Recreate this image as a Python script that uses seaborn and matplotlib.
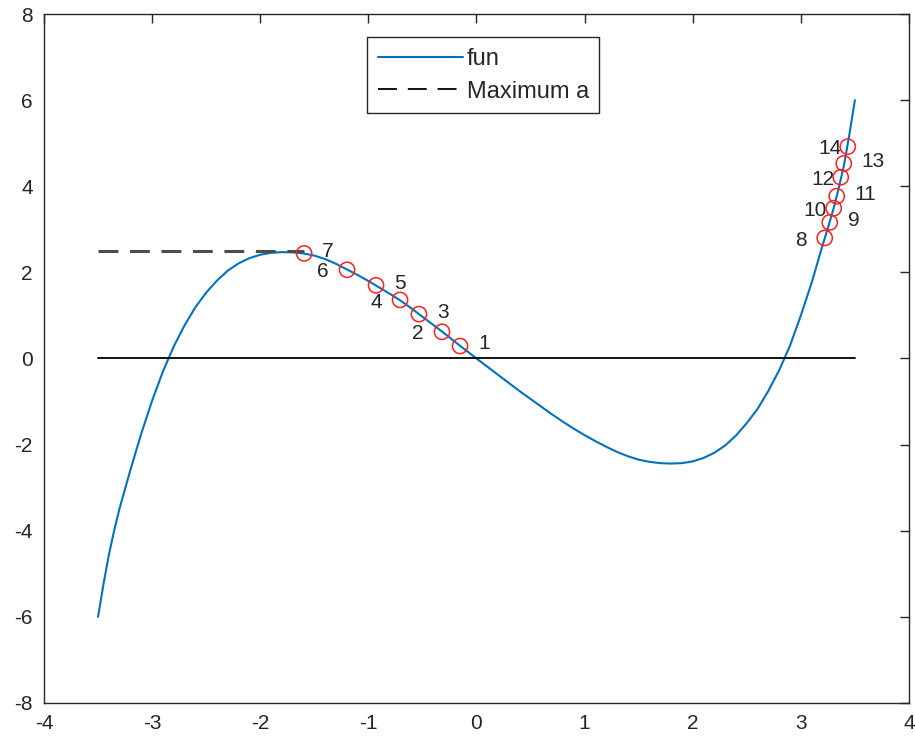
import numpy as np
import pandas as pd
import matplotlib
matplotlib.use('Agg')
import matplotlib.pyplot as plt
import seaborn as sns
from matplotlib.lines import Line2D

# curve "fun", values
fun_x = [-3.5, -3.45, -3.4, -3.35, -3.3, -3.2, -3.1, -3.0, -2.9, -2.8, -2.7,
         -2.6, -2.5, -2.4, -2.3, -2.2, -2.1, -2.0, -1.9, -1.8, -1.7, -1.6,
         -1.5, -1.4, -1.3, -1.2, -1.1, -1.0, -0.9, -0.8, -0.7, -0.6, -0.5,
         -0.4, -0.3, -0.2, -0.1, 0.0, 0.1, 0.2, 0.3, 0.4, 0.5, 0.6, 0.7,
         0.8, 0.9, 1.0, 1.1, 1.2, 1.3, 1.4, 1.5, 1.6, 1.7, 1.8, 1.9, 2.0,
         2.1, 2.2, 2.3, 2.4, 2.5, 2.6, 2.7, 2.8, 2.9, 3.0, 3.1, 3.2, 3.25,
         3.3, 3.35, 3.4, 3.45, 3.5]
fun_y = [-6.0, -5.24, -4.56, -3.98, -3.47, -2.58, -1.74, -0.98, -0.30, 0.28,
         0.77, 1.19, 1.53, 1.81, 2.04, 2.21, 2.33, 2.41, 2.455, 2.47, 2.465,
         2.44, 2.39, 2.31, 2.20, 2.07, 1.94, 1.80, 1.65, 1.50, 1.34, 1.16,
         0.97, 0.78, 0.59, 0.39, 0.195, 0.0, -0.19, -0.38, -0.57, -0.76,
         -0.94, -1.12, -1.30, -1.47, -1.63, -1.78, -1.92, -2.05, -2.17,
         -2.27, -2.35, -2.40, -2.43, -2.44, -2.43, -2.39, -2.31, -2.19,
         -2.02, -1.79, -1.50, -1.17, -0.75, -0.27, 0.30, 1.00, 1.76, 2.62,
         3.03, 3.46, 3.95, 4.50, 5.22, 6.0]

# search points 1..14
iter_x = [-0.152, -0.319, -0.532, -0.707, -0.929, -1.197, -1.594,
          3.221, 3.267, 3.304, 3.332, 3.369, 3.397, 3.434]
iter_y = [0.29, 0.62, 1.03, 1.36, 1.70, 2.06, 2.44,
          2.80, 3.16, 3.49, 3.77, 4.21, 4.53, 4.92]
iter_lab = [str(i) for i in range(1, 15)]

# zero line and maximum line
zero_x = [-3.5, 3.5]
zero_y = [0, 0]
max_x = [-3.5, -1.594]
max_y = [2.5, 2.5]

xticks = [-4, -3, -2, -1, 0, 1, 2, 3, 4]
yticks = [-8, -6, -4, -2, 0, 2, 4, 6, 8]

sns.set_style('white')
plt.rcParams['font.family'] = ['Liberation Sans', 'DejaVu Sans']
plt.rcParams['axes.unicode_minus'] = False

fig = plt.figure(figsize=(9.15, 7.42), dpi=100)
ax = fig.add_axes([0.0481, 0.0526, 0.9453, 0.9285])

blue = '#0072BD'
dark = '#262626'

sns.lineplot(x=fun_x, y=fun_y, ax=ax, color=blue, linewidth=1.5, sort=False)
sns.lineplot(x=zero_x, y=zero_y, ax=ax, color='black', linewidth=1.3)
ax.plot(max_x, max_y, color='0.3', linewidth=2.2, dashes=(6.5, 3.8))

df_it = pd.DataFrame({'x': iter_x, 'y': iter_y, 'lab': iter_lab})
sns.scatterplot(data=df_it, x='x', y='y', ax=ax, marker='o', s=120,
                facecolor='none', edgecolor='#ff2020', linewidth=1.1, zorder=5)

for i, row in df_it.iterrows():
    odd = (i + 1) % 2 == 1
    dx = 13 if odd else -21.5
    dy = 1.5 if odd else -1.5
    ax.annotate(row['lab'], (row['x'], row['y']), xytext=(dx, dy),
                textcoords='offset points', ha='left', va='center',
                fontsize=15, color=dark)

ax.set_xlim(-4, 4)
ax.set_ylim(-8, 8)
ax.set_xticks(xticks)
ax.set_yticks(yticks)
ax.set_xlabel('')
ax.set_ylabel('')
ax.tick_params(direction='in', length=6.5, width=1, colors=dark,
               labelsize=15, top=True, right=True, pad=8)
for s in ax.spines.values():
    s.set_visible(True)
    s.set_color(dark)
    s.set_linewidth(1)

handles = [Line2D([], [], color=blue, linewidth=1.5),
           Line2D([], [], color='black', linewidth=1.3, dashes=(10.5, 6))]
leg = ax.legend(handles, ['fun', 'Maximum a'], loc='upper center',
                bbox_to_anchor=(0.508, 0.966), fontsize=17, frameon=True,
                fancybox=False, edgecolor=dark, framealpha=1,
                handlelength=3.6, handletextpad=0.15, borderpad=0.45,
                labelspacing=0.45, borderaxespad=0)
leg.get_frame().set_linewidth(1)

fig.savefig('out.png', dpi=100)
